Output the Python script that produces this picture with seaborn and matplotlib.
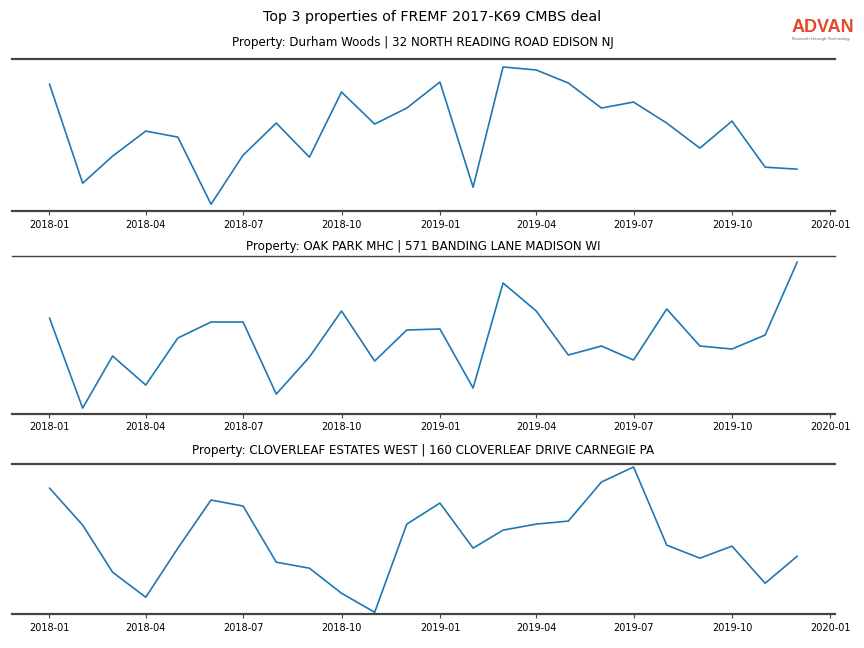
import pandas as pd
import matplotlib
matplotlib.use('Agg')
import matplotlib.pyplot as plt
import matplotlib.dates as mdates
import seaborn as sns

months = pd.date_range('2018-01-01', '2019-12-01', freq='MS')

titulo = 'Top 3 properties of FREMF 2017-K69 CMBS deal'
propriedades = [
    'Property: Durham Woods | 32 NORTH READING ROAD EDISON NJ',
    'Property: OAK PARK MHC | 571 BANDING LANE MADISON WI',
    'Property: CLOVERLEAF ESTATES WEST | 160 CLOVERLEAF DRIVE CARNEGIE PA',
]

# valores (escala arbitraria, eixo y escondido)
durham = [216, 117, 144, 169, 163, 96, 145, 177, 143, 208, 176, 192,
          218, 113, 233, 230, 217, 192, 198, 177, 152, 179, 133, 131]
oak_park = [182, 92, 144, 115, 162, 178, 178, 106, 143, 189, 139, 170,
            171, 112, 217, 189, 145, 154, 140, 191, 154, 151, 165, 238]
cloverleaf = [212, 175, 128, 103, 152, 200, 194, 138, 132, 107, 88, 176,
              197, 152, 170, 176, 179, 218, 233, 155, 142, 154, 117, 144]

series = [durham, oak_park, cloverleaf]
limites = [(89, 241), (86, 244), (86, 236)]

sns.set_style('white')
plt.rcParams['text.color'] = 'black'
plt.rcParams['xtick.labelcolor'] = 'black'

fig = plt.figure(figsize=(8.64, 6.48), dpi=100)
posicoes = [
    [0.014, 0.674, 0.952, 0.235],
    [0.014, 0.361, 0.952, 0.244],
    [0.014, 0.052, 0.952, 0.232],
]
pads = [9, 4, 7]
larg_topo = [1.6, 1.0, 1.6]

for i in range(3):
    ax = fig.add_axes(posicoes[i])
    df = pd.DataFrame({'mes': months, 'valor': series[i]})
    sns.lineplot(data=df, x='mes', y='valor', ax=ax, color='#1f77b4', linewidth=1.2)
    ax.set_ylim(limites[i])
    ax.set_xlabel('')
    ax.set_ylabel('')
    ax.set_yticks([])
    ax.set_title(propriedades[i], fontsize=8.6, pad=pads[i], color='black')
    ax.xaxis.set_major_locator(mdates.MonthLocator(bymonth=[1, 4, 7, 10]))
    ax.xaxis.set_major_formatter(mdates.DateFormatter('%Y-%m'))
    ax.tick_params(axis='x', labelsize=7, length=3, width=0.8, color='#444444',
                   labelcolor='black', bottom=True, pad=3)
    for lado in ['left', 'right']:
        ax.spines[lado].set_visible(False)
    ax.spines['bottom'].set_color('#444444')
    ax.spines['bottom'].set_linewidth(1.6)
    ax.spines['top'].set_color('#444444')
    ax.spines['top'].set_linewidth(larg_topo[i])

fig.suptitle(titulo, fontsize=10.3, y=0.985, color='black')

# logo
fig.text(0.9165, 0.957, 'ADVAN', fontsize=13, color='#E0492A', ha='left', va='center',
         family='Liberation Sans', fontweight='bold')
fig.text(0.9165, 0.940, 'Research through Technology', fontsize=2.8, color='#666666',
         ha='left', va='center')

plt.savefig('out.png', dpi=100)
